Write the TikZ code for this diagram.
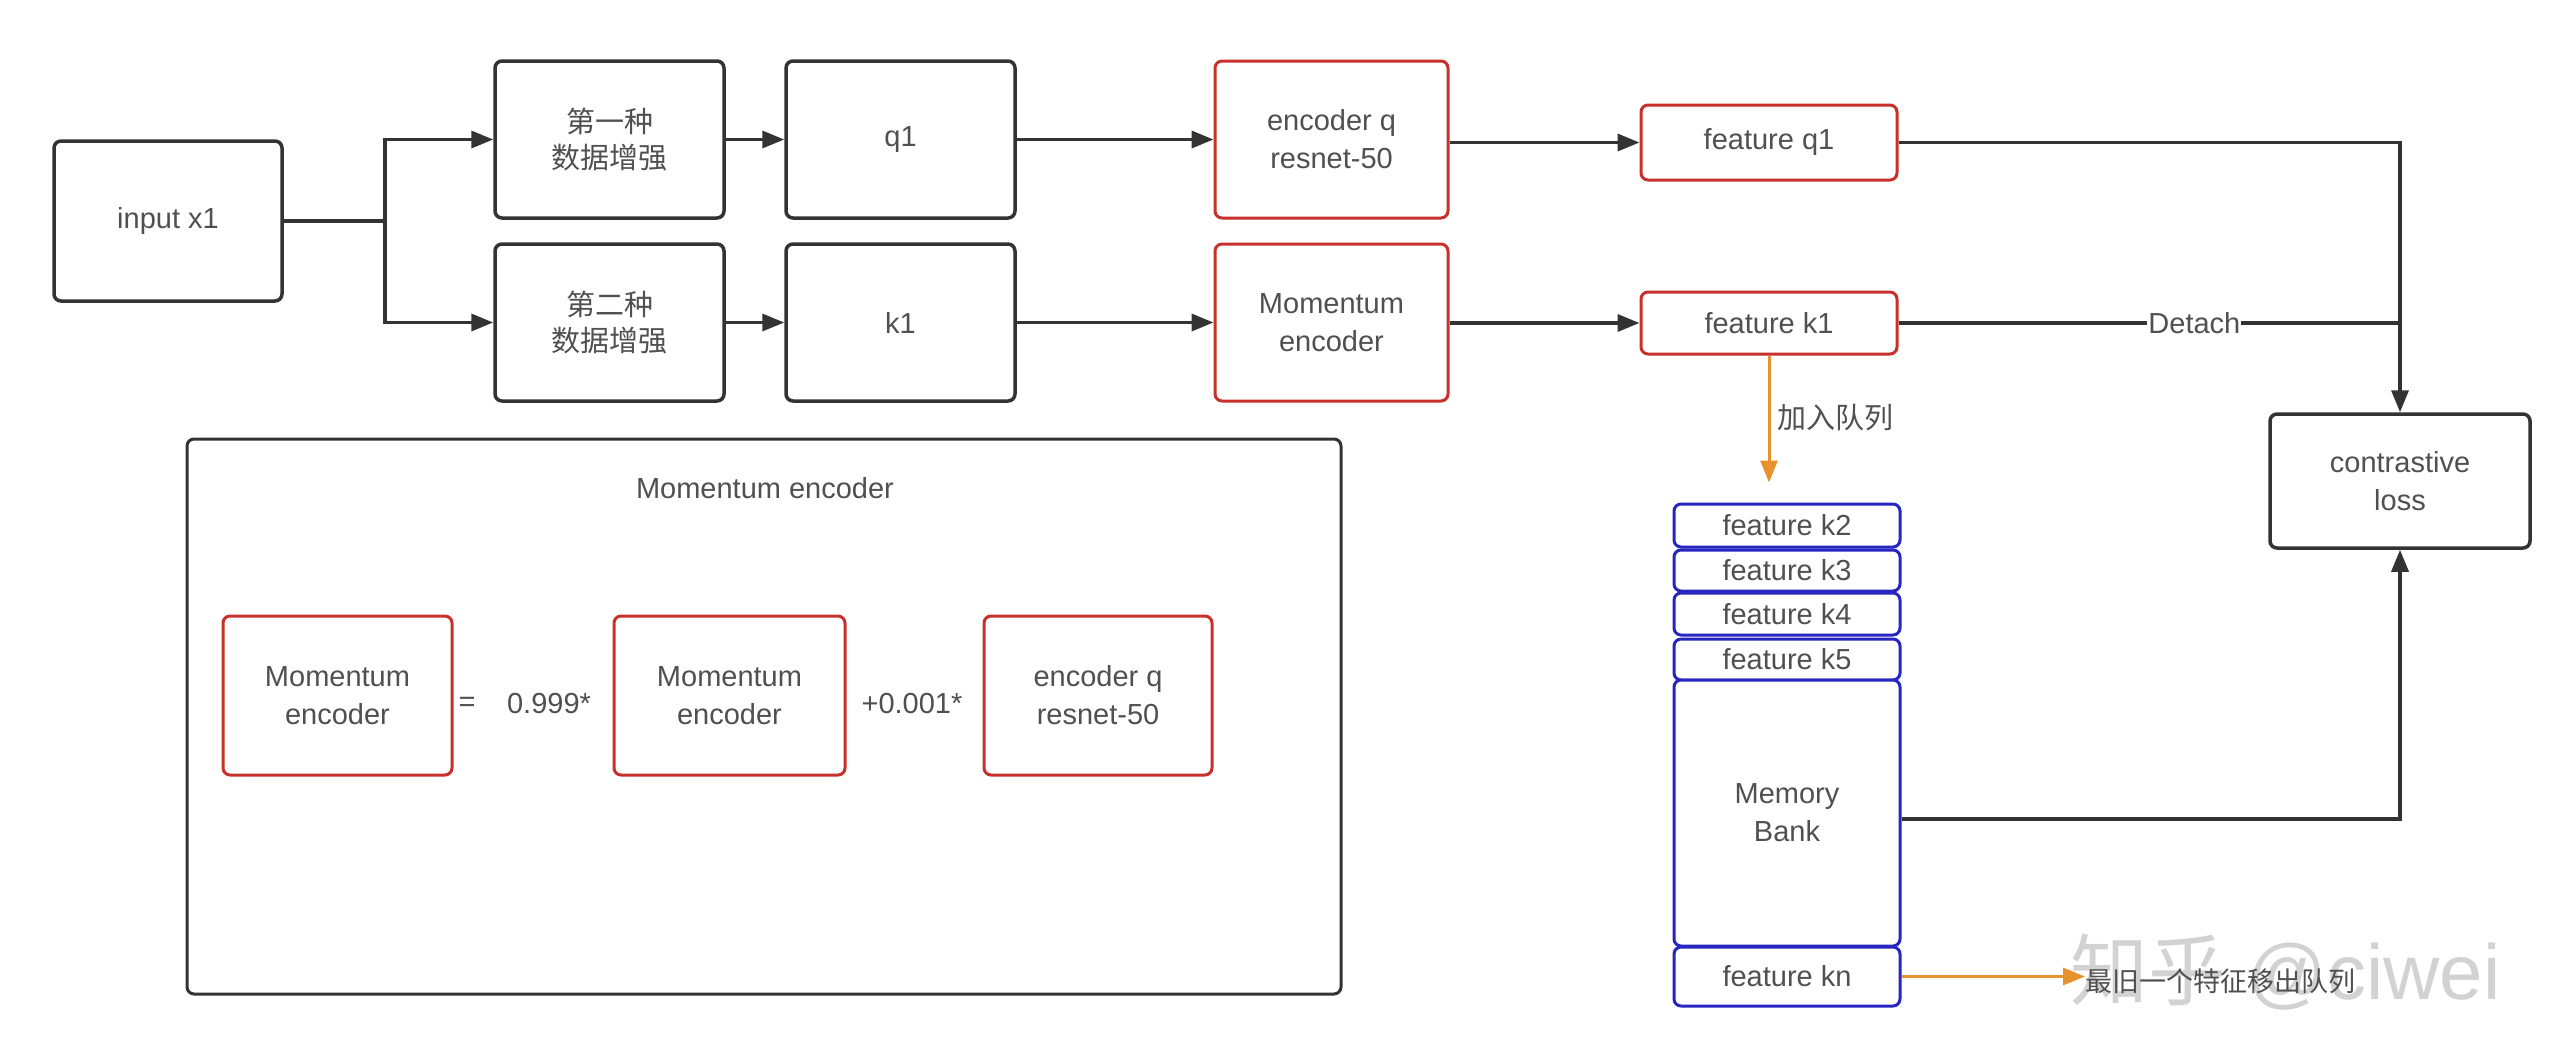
\documentclass[tikz,border=0pt]{standalone}
\usepackage{fontspec}
\setmainfont{Liberation Sans}
\newfontfamily\cjk{Noto Sans CJK SC}
\usetikzlibrary{arrows.meta,calc}
\definecolor{txtgray}{HTML}{505050}
\definecolor{linegray}{HTML}{333333}
\definecolor{boxred}{HTML}{C8302C}
\definecolor{boxblue}{HTML}{2626C0}
\definecolor{orng}{HTML}{E8922E}
\tikzset{
  base/.style={align=center, text=txtgray, inner sep=0pt, rounded corners=7pt,
    font=\fontsize{29}{38}\selectfont},
  blk/.style={base, draw=linegray, line width=3.5pt},
  redbox/.style={base, draw=boxred, line width=3pt},
  bluebox/.style={base, draw=boxblue, line width=3pt},
  conn/.style={draw=linegray, line width=3.5pt},
  arr/.style={conn, -{Triangle[length=22pt,width=17pt]}},
  orarr/.style={draw=orng, line width=3pt, -{Triangle[length=22pt,width=17pt]}},
  lbl/.style={text=txtgray, inner sep=2pt, font=\fontsize{29}{38}\selectfont},
}
\begin{document}
\begin{tikzpicture}[x=1pt,y=-1pt]
\useasboundingbox (0,0) rectangle (2568,1044);
\fill[white] (0,0) rectangle (2568,1044);

% top pipeline
\node[blk, minimum width=228pt, minimum height=160pt] (in) at (168,221) {input x1};
\node[blk, minimum width=229pt, minimum height=157pt] (aug1) at (609.5,139.5) {{\cjk 第一种}\\[-2pt]{\cjk 数据增强}};
\node[blk, minimum width=229pt, minimum height=157pt] (aug2) at (609.5,322.5) {{\cjk 第二种}\\[-2pt]{\cjk 数据增强}};
\node[blk, minimum width=229pt, minimum height=157pt] (q1) at (900.5,139.5) {q1};
\node[blk, minimum width=229pt, minimum height=157pt] (k1) at (900.5,322.5) {k1};
\node[redbox, minimum width=233pt, minimum height=157pt] (encq) at (1331.5,139.5) {encoder q\\resnet-50};
\node[redbox, minimum width=233pt, minimum height=157pt] (menc) at (1331.5,322.5) {Momentum\\encoder};
\node[redbox, minimum width=256pt, minimum height=75pt] (fq1) at (1769,142.5) {feature q1};
\node[redbox, minimum width=256pt, minimum height=62pt] (fk1) at (1769,323) {feature k1};
\node[blk, minimum width=260pt, minimum height=134pt] (loss) at (2400,481) {contrastive\\loss};

% memory bank stack
\node[bluebox, minimum width=226pt, minimum height=43pt] (k2) at (1787,525.5) {feature k2};
\node[bluebox, minimum width=226pt, minimum height=41pt] (k3) at (1787,570.5) {feature k3};
\node[bluebox, minimum width=226pt, minimum height=42pt] (k4) at (1787,614) {feature k4};
\node[bluebox, minimum width=226pt, minimum height=41pt] (k5) at (1787,659.5) {feature k5};
\node[bluebox, fill=white, minimum width=226pt, minimum height=266pt] (mb) at (1787,813) {Memory\\Bank};
\node[bluebox, minimum width=226pt, minimum height=59pt] (kn) at (1787,976.5) {feature kn};

% momentum encoder frame
\node[draw=linegray, line width=3pt, rounded corners=7pt, minimum width=1154pt, minimum height=555pt] (frame) at (764,716.5) {};
\node[lbl] (title) at (765,488) {Momentum encoder};
\node[redbox, minimum width=229pt, minimum height=159pt] (ma) at (337.5,695.5) {Momentum\\encoder};
\node[lbl] (eq) at (467,704) {=};
\node[lbl] (c999) at (549,704) {0.999*};
\node[redbox, minimum width=231pt, minimum height=159pt] (mb2) at (729.5,695.5) {Momentum\\encoder};
\node[lbl] (c001) at (912,704) {+0.001*};
\node[redbox, minimum width=228pt, minimum height=159pt] (mc) at (1098,695.5) {encoder q\\resnet-50};

% connectors
\coordinate (sp) at (385,221);
\draw[conn] (in.east |- sp) -- (sp);
\draw[arr] (sp) |- (aug1.west);
\draw[arr] (sp) |- (aug2.west);
\draw[arr] (aug1) -- (q1);
\draw[arr] (aug2) -- (k1);
\draw[arr] (q1) -- (encq);
\draw[arr] (k1) -- (menc);
\draw[arr] (encq.east |- fq1.west) -- (fq1.west);
\draw[arr] (menc.east |- fk1.west) -- (fk1.west);
\draw[arr] (fq1.east) -| (loss.north);
\coordinate (dj) at (loss.north |- fk1.east);
\draw[conn] (fk1.east) -- node[pos=0.59, fill=white, lbl, inner sep=1pt] (det) {Detach} (dj);
\draw[arr] ($(mb.east)+(0,6)$) -| (loss.south);
\draw[orarr, shorten >=20pt] (fk1.south) -- (fk1.south |- k2.north);
\node[lbl, anchor=west] (addq) at (1775,418) {\cjk 加入队列};

% watermark and dequeue text
\node[text=gray!35, anchor=west, inner sep=0pt, font=\fontsize{78}{80}\selectfont] (wm) at (2070,972) {{\cjk 知乎} @ciwei};
\node[anchor=west, inner sep=0pt, text=txtgray, font=\fontsize{27}{30}\selectfont] (out) at (2085,981) {\cjk 最旧一个特征移出队列};
\draw[orarr] (kn.east) -- (kn.east -| out.west);
\end{tikzpicture}
\end{document}
